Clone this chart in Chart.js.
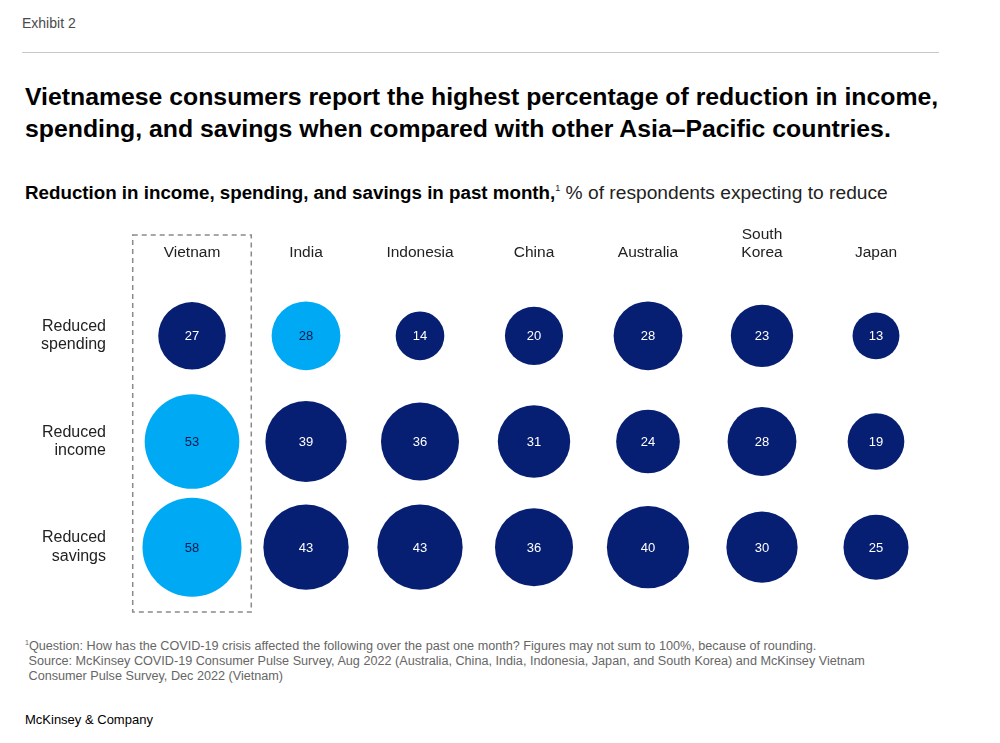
<!DOCTYPE html>
<html>
<head>
<meta charset="utf-8">
<script src="https://cdn.jsdelivr.net/npm/chart.js@4.4.1/dist/chart.umd.min.js"></script>
<style>
  body { margin: 0; background: #fff; font-family: "Liberation Sans", Arial, sans-serif; }
  #page { position: relative; width: 1000px; height: 743px; overflow: hidden; }
  .abs { position: absolute; white-space: nowrap; }
  #exhibit { left: 22px; top: 15px; font-size: 14px; color: #4a4a4a; }
  #rule { left: 22px; top: 52px; width: 917px; height: 1px; background: #c8c8c8; }
  #title { left: 25px; top: 81px; font-size: 24.8px; line-height: 32px; font-weight: bold; color: #000; }
  #subtitle { left: 25px; top: 177px; font-size: 19.2px; line-height: 22px; color: #222; }
  #subtitle b { color: #000; font-size: 18.75px; }
  #subtitle sup { font-size: 9px; vertical-align: 8px; }
  #notes { left: 25px; top: 635px; font-size: 12.65px; line-height: 15px; color: #666; }
  #notes sup { font-size: 7px; vertical-align: 5px; }
  #brand { left: 25px; top: 712px; font-size: 13px; color: #000; }
  #chartBox { position: absolute; left: 0; top: 215px; width: 1000px; height: 410px; }
</style>
</head>
<body>
<div id="page">
  <div class="abs" id="exhibit">Exhibit 2</div>
  <div class="abs" id="rule"></div>
  <div class="abs" id="title">Vietnamese consumers report the highest percentage of reduction in income,<br>spending, and savings when compared with other Asia–Pacific countries.</div>
  <div class="abs" id="subtitle"><b>Reduction in income, spending, and savings in past month,</b><sup>1</sup> % of respondents expecting to reduce</div>
  <div id="chartBox"><canvas id="grafico"></canvas></div>
  <div class="abs" id="notes"><sup>1</sup>Question: How has the COVID-19 crisis affected the following over the past one month? Figures may not sum to 100%, because of rounding.<br>&nbsp;Source: McKinsey COVID-19 Consumer Pulse Survey, Aug 2022 (Australia, China, India, Indonesia, Japan, and South Korea) and McKinsey Vietnam<br>&nbsp;Consumer Pulse Survey, Dec 2022 (Vietnam)</div>
  <div class="abs" id="brand">McKinsey &amp; Company</div>
</div>
<script>
const countries = ['Vietnam', 'India', 'Indonesia', 'China', 'Australia', 'South Korea', 'Japan'];
const countryLabels = ['Vietnam', 'India', 'Indonesia', 'China', 'Australia', ['South', 'Korea'], 'Japan'];
const rowLabels = [['Reduced', 'spending'], ['Reduced', 'income'], ['Reduced', 'savings']];
const spending = [27, 28, 14, 20, 28, 23, 13];
const income = [53, 39, 36, 31, 24, 28, 19];
const savings = [58, 43, 43, 36, 40, 30, 25];
// highlighted cells: [row, country]
const highlights = [[0, 'India'], [1, 'Vietnam'], [2, 'Vietnam']];

const navy = '#061f73';
const sky = '#00a9f4';
const fontFam = '"Liberation Sans", Arial, sans-serif';

function isHi(row, col) {
  return highlights.some(h => h[0] === row && h[1] === countries[col]);
}

const rows = [spending, income, savings];
const points = [];
rows.forEach((vals, r) => {
  vals.forEach((v, c) => {
    points.push({ x: c, y: r, r: 6.5 * Math.sqrt(v), v: v, hi: isHi(r, c) });
  });
});

const valueLabels = {
  id: 'valueLabels',
  afterDatasetsDraw(chart) {
    const ctx = chart.ctx;
    const meta = chart.getDatasetMeta(0);
    ctx.save();
    ctx.font = '13px ' + fontFam;
    ctx.textAlign = 'center';
    ctx.textBaseline = 'middle';
    meta.data.forEach((el, i) => {
      const p = points[i];
      ctx.fillStyle = p.hi ? '#0b1a4d' : '#ffffff';
      ctx.fillText(p.v, el.x, el.y + 1);
    });
    ctx.restore();
  }
};

const focusBox = {
  id: 'focusBox',
  beforeDatasetsDraw(chart) {
    const ctx = chart.ctx;
    const xs = chart.scales.x;
    const ys = chart.scales.y;
    const l = xs.getPixelForValue(-0.52);
    const r = xs.getPixelForValue(0.52);
    const t = 20;
    const b = ys.getPixelForValue(2.5) + 12;
    ctx.save();
    ctx.strokeStyle = '#8a8a8a';
    ctx.lineWidth = 1.5;
    ctx.setLineDash([5, 4]);
    ctx.strokeRect(l, t, r - l, b - t);
    ctx.restore();
  }
};

new Chart(document.getElementById('grafico'), {
  type: 'bubble',
  data: {
    datasets: [{
      data: points,
      backgroundColor: points.map(p => p.hi ? sky : navy),
      borderWidth: 0,
      hoverBorderWidth: 0
    }]
  },
  options: {
    responsive: true,
    maintainAspectRatio: false,
    animation: false,
    events: [],
    layout: { autoPadding: false, padding: { left: 0, right: 67, top: 0, bottom: 25 } },
    plugins: { legend: { display: false }, tooltip: { enabled: false } },
    scales: {
      x: {
        type: 'linear',
        position: 'top',
        min: -0.5,
        max: 6.5,
        border: { display: false },
        grid: { display: false, drawTicks: false },
        afterBuildTicks: s => { s.ticks = countries.map((c, i) => ({ value: i })); },
        afterFit: s => { s.height = 68; s.paddingLeft = 0; s.paddingRight = 0; },
        ticks: {
          padding: 21,
          maxRotation: 0,
          autoSkip: false,
          color: '#222',
          font: { family: fontFam, size: 15.5, lineHeight: 1.17 },
          callback: v => countryLabels[v]
        }
      },
      y: {
        type: 'linear',
        reverse: true,
        min: -0.5,
        max: 2.5,
        border: { display: false },
        grid: { display: false, drawTicks: false },
        afterBuildTicks: s => { s.ticks = rowLabels.map((c, i) => ({ value: i })); },
        afterFit: s => { s.width = 135; s.paddingTop = 0; s.paddingBottom = 0; },
        ticks: {
          padding: 29,
          autoSkip: false,
          color: '#222',
          font: { family: fontFam, size: 16, lineHeight: 1.15 },
          callback: v => rowLabels[v]
        }
      }
    }
  },
  plugins: [focusBox, valueLabels]
});
</script>
</body>
</html>
